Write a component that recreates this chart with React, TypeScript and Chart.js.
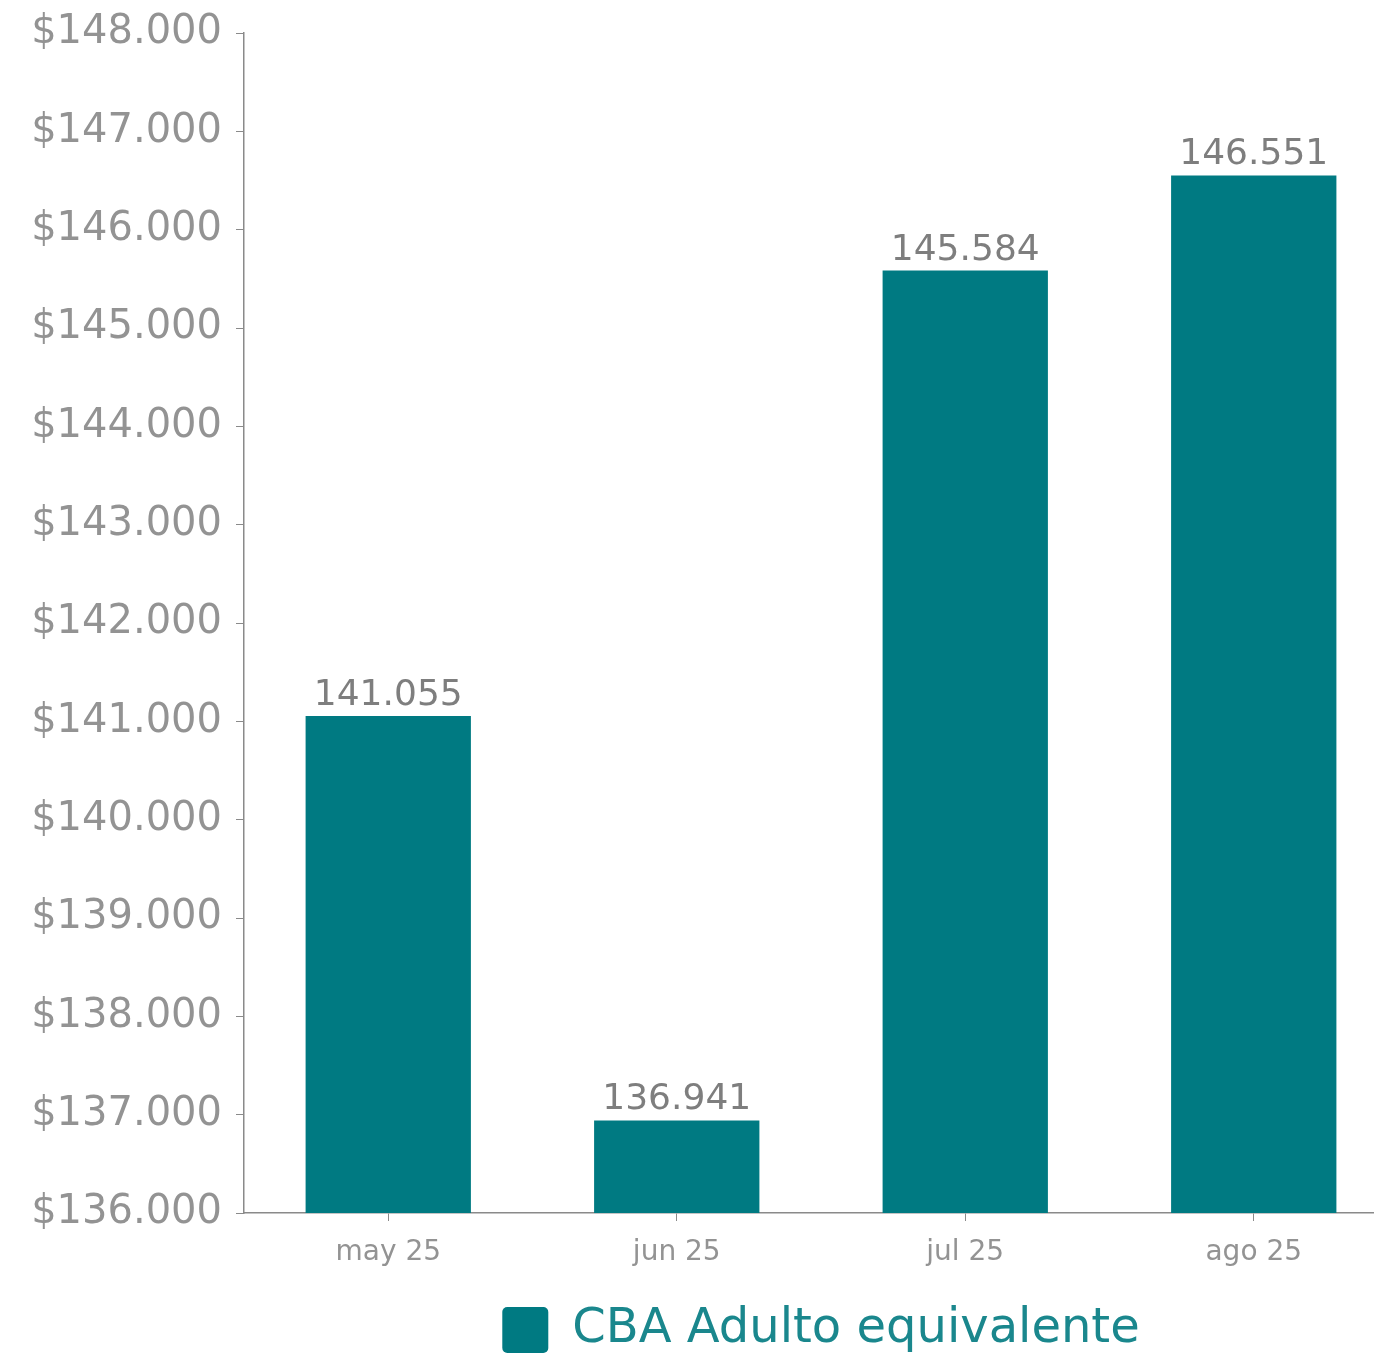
import React, { useEffect, useRef } from "react";
import { Chart, registerables } from "chart.js";

Chart.register(...registerables);

const categories = ["may 25", "jun 25", "jul 25", "ago 25"];
const seriesLabel = "CBA Adulto equivalente";
const values = [141055, 136941, 145584, 146551];
const yMin = 136000;
const yMax = 148000;
const yStep = 1000;

const FONT = "'DejaVu Sans', sans-serif";
const TEAL = "#007A82";
const GRAY = "#8a8a8a";

function fmt(n: number): string {
  return String(Math.round(n)).replace(/\B(?=(\d{3})+(?!\d))/g, ".");
}

const valueLabels = {
  id: "valueLabels",
  afterDatasetsDraw(chart: any) {
    const ctx = chart.ctx;
    const meta = chart.getDatasetMeta(0);
    ctx.save();
    ctx.font = `36px ${FONT}`;
    ctx.fillStyle = "#7e7e7e";
    ctx.textAlign = "center";
    ctx.textBaseline = "alphabetic";
    meta.data.forEach((bar: any, i: number) => {
      ctx.fillText(fmt(values[i]), bar.x, bar.y - 11);
    });
    ctx.restore();
  },
};

export default function App() {
  const ref = useRef<HTMLCanvasElement | null>(null);
  useEffect(() => {
    if (!ref.current) return;
    const chart = new Chart(ref.current, {
      type: "bar",
      data: {
        labels: categories,
        datasets: [
          {
            label: seriesLabel,
            data: values,
            backgroundColor: TEAL,
            borderWidth: 0,
            categoryPercentage: 1,
            barPercentage: 0.573,
          },
        ],
      },
      options: {
        animation: false,
        responsive: false,
        maintainAspectRatio: false,
        layout: { padding: { top: 33, left: 0, right: 0, bottom: 0 } },
        plugins: {
          tooltip: { enabled: false },
          legend: {
            position: "bottom",
            fullSize: false,
            labels: {
              boxWidth: 46,
              boxHeight: 46,
              padding: 10,
              color: "#1a878d",
              font: { family: FONT, size: 48 },
              useBorderRadius: true,
              borderRadius: 5,
            },
          },
        },
        scales: {
          x: {
            offset: true,
            grid: {
              display: true,
              drawOnChartArea: false,
              offset: false,
              tickLength: 8,
              color: GRAY,
            },
            border: { display: true, color: GRAY, width: 1.5 },
            ticks: {
              color: "#939393",
              font: { family: FONT, size: 28 },
              padding: 15,
            },
            afterFit(scale: any) {
              scale.height = 83;
              scale.paddingLeft = 0;
              scale.paddingRight = 0;
            },
          },
          y: {
            min: yMin,
            max: yMax,
            grid: {
              display: true,
              drawOnChartArea: false,
              tickLength: 8,
              color: GRAY,
            },
            border: { display: true, color: GRAY, width: 1.5 },
            ticks: {
              stepSize: yStep,
              color: "#939393",
              padding: 14,
              font: { family: FONT, size: 40 },
              callback: (v: any) => "$" + fmt(Number(v)),
            },
            afterFit(scale: any) {
              scale.width = 244;
              scale.paddingTop = 0;
              scale.paddingBottom = 0;
            },
          },
        },
      },
      plugins: [valueLabels],
    });
    return () => chart.destroy();
  }, []);
  return (
    <div
      style={{
        position: "fixed",
        left: 0,
        top: 0,
        width: 1374,
        height: 1354,
        overflow: "hidden",
        background: "#fff",
      }}
    >
      <canvas
        ref={ref}
        width={1398}
        height={1364}
        style={{ position: "absolute", left: 0, top: 0, width: 1398, height: 1364 }}
      />
    </div>
  );
}
